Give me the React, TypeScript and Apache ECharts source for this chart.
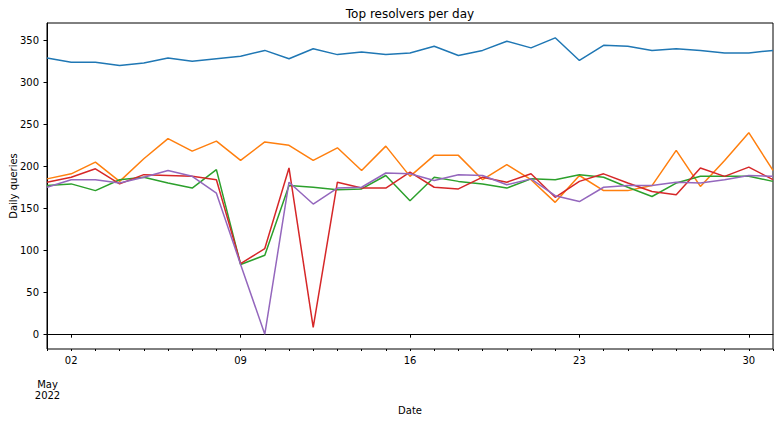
import React, { useEffect, useRef } from "react";
import * as echarts from "echarts";

const dates = [
  "2022-05-01", "2022-05-02", "2022-05-03", "2022-05-04", "2022-05-05", "2022-05-06", "2022-05-07",
  "2022-05-08", "2022-05-09", "2022-05-10", "2022-05-11", "2022-05-12", "2022-05-13", "2022-05-14",
  "2022-05-15", "2022-05-16", "2022-05-17", "2022-05-18", "2022-05-19", "2022-05-20", "2022-05-21",
  "2022-05-22", "2022-05-23", "2022-05-24", "2022-05-25", "2022-05-26", "2022-05-27", "2022-05-28",
  "2022-05-29", "2022-05-30", "2022-05-31",
];

const resolverA = [329, 324, 324, 320, 323, 329, 325, 328, 331, 338, 328, 340, 333, 336, 333,
  335, 343, 332, 338, 349, 341, 353, 326, 344, 343, 338, 340, 338, 335, 335, 338];
const resolverB = [185, 191, 205, 182, 209, 233, 218, 230, 207, 229, 225, 207, 222, 195, 224,
  188, 213, 213, 184, 202, 184, 157, 189, 171, 171, 177, 219, 176, 207, 240, 195];
const resolverC = [177, 179, 171, 184, 187, 180, 174, 196, 83, 94, 177, 175, 172, 173, 189,
  159, 187, 182, 179, 174, 185, 184, 190, 187, 175, 164, 180, 188, 188, 188, 182];
const resolverD = [181, 187, 197, 179, 190, 189, 188, 184, 84, 102, 198, 8, 181, 174, 174,
  193, 175, 173, 187, 181, 191, 163, 182, 191, 180, 170, 166, 198, 188, 199, 184];
const resolverE = [175, 184, 184, 180, 187, 195, 188, 168, 83, 0, 181, 155, 174, 175, 192,
  191, 183, 190, 189, 178, 185, 165, 158, 175, 177, 177, 181, 180, 184, 189, 188];

const seriesNames = ["resolver-1", "resolver-2", "resolver-3", "resolver-4", "resolver-5"];
const seriesValues = [resolverA, resolverB, resolverC, resolverD, resolverE];
const colors = ["#1f77b4", "#ff7f0e", "#2ca02c", "#d62728", "#9467bd"];

const yTicks = [0, 50, 100, 150, 200, 250, 300, 350];
const majorDates = ["2022-05-02", "2022-05-09", "2022-05-16", "2022-05-23", "2022-05-30"];

const FONT = "DejaVu Sans";

export default function App() {
  const ref = useRef<HTMLDivElement>(null);
  useEffect(() => {
    if (!ref.current) return;
    const chart = echarts.init(ref.current, null, { renderer: "svg" });
    const isMajor = (i: number) => majorDates.includes(dates[i]);
    chart.setOption({
      animation: false,
      backgroundColor: "#fff",
      grid: {
        left: 47,
        top: 23,
        width: 726,
        height: 326,
        show: true,
        borderColor: "#000",
        borderWidth: 1,
        containLabel: false,
      },
      xAxis: [
        {
          type: "category",
          data: dates,
          boundaryGap: false,
          axisLine: { show: true, lineStyle: { color: "#000", width: 1 } },
          axisTick: {
            show: true,
            interval: (i: number) => isMajor(i),
            length: 3.5,
            lineStyle: { color: "#000" },
          },
          axisLabel: {
            show: true,
            interval: (i: number) => isMajor(i),
            formatter: (v: string) => v.slice(8),
            margin: 6,
            fontFamily: FONT,
            fontSize: 10,
            color: "#000",
          },
          splitLine: { show: false },
        },
        {
          type: "category",
          data: dates,
          boundaryGap: false,
          position: "bottom",
          axisLine: { show: false },
          axisTick: { show: true, interval: 0, length: 2, lineStyle: { color: "#000" } },
          axisLabel: { show: false },
          splitLine: { show: false },
        },
      ],
      yAxis: {
        type: "value",
        min: -17.65,
        max: 370.65,
        axisLine: { show: true, lineStyle: { color: "#000", width: 1 } },
        axisTick: { show: true, customValues: yTicks, length: 3.5, lineStyle: { color: "#000" } },
        axisLabel: {
          show: true,
          customValues: yTicks,
          margin: 8,
          fontFamily: FONT,
          fontSize: 10,
          color: "#000",
        },
        splitLine: { show: false },
      },
      graphic: [
        {
          type: "text",
          x: 410,
          y: 14,
          style: {
            text: "Top resolvers per day",
            fontFamily: FONT,
            fontSize: 12,
            fill: "#000",
            textAlign: "center",
            textVerticalAlign: "middle",
          },
        },
        {
          type: "text",
          x: 47.5,
          y: 390,
          style: {
            text: "May\n2022",
            fontFamily: FONT,
            fontSize: 10,
            lineHeight: 11.5,
            fill: "#000",
            textAlign: "center",
            textVerticalAlign: "middle",
          },
        },
        {
          type: "text",
          x: 410,
          y: 410,
          style: {
            text: "Date",
            fontFamily: FONT,
            fontSize: 10,
            fill: "#000",
            textAlign: "center",
            textVerticalAlign: "middle",
          },
        },
        {
          type: "text",
          x: 13,
          y: 186,
          rotation: Math.PI / 2,
          style: {
            text: "Daily queries",
            fontFamily: FONT,
            fontSize: 10,
            fill: "#000",
            textAlign: "center",
            textVerticalAlign: "middle",
          },
        },
      ],
      series: seriesValues.map((vals, k) => ({
        name: seriesNames[k],
        type: "line",
        data: vals,
        showSymbol: false,
        symbol: "none",
        lineStyle: { color: colors[k], width: 1.5 },
        itemStyle: { color: colors[k] },
        z: 2 + k,
      })),
    });
    return () => chart.dispose();
  }, []);
  return (
    <div
      ref={ref}
      style={{ position: "fixed", left: 0, top: 0, width: 779, height: 422, background: "#fff" }}
    />
  );
}
